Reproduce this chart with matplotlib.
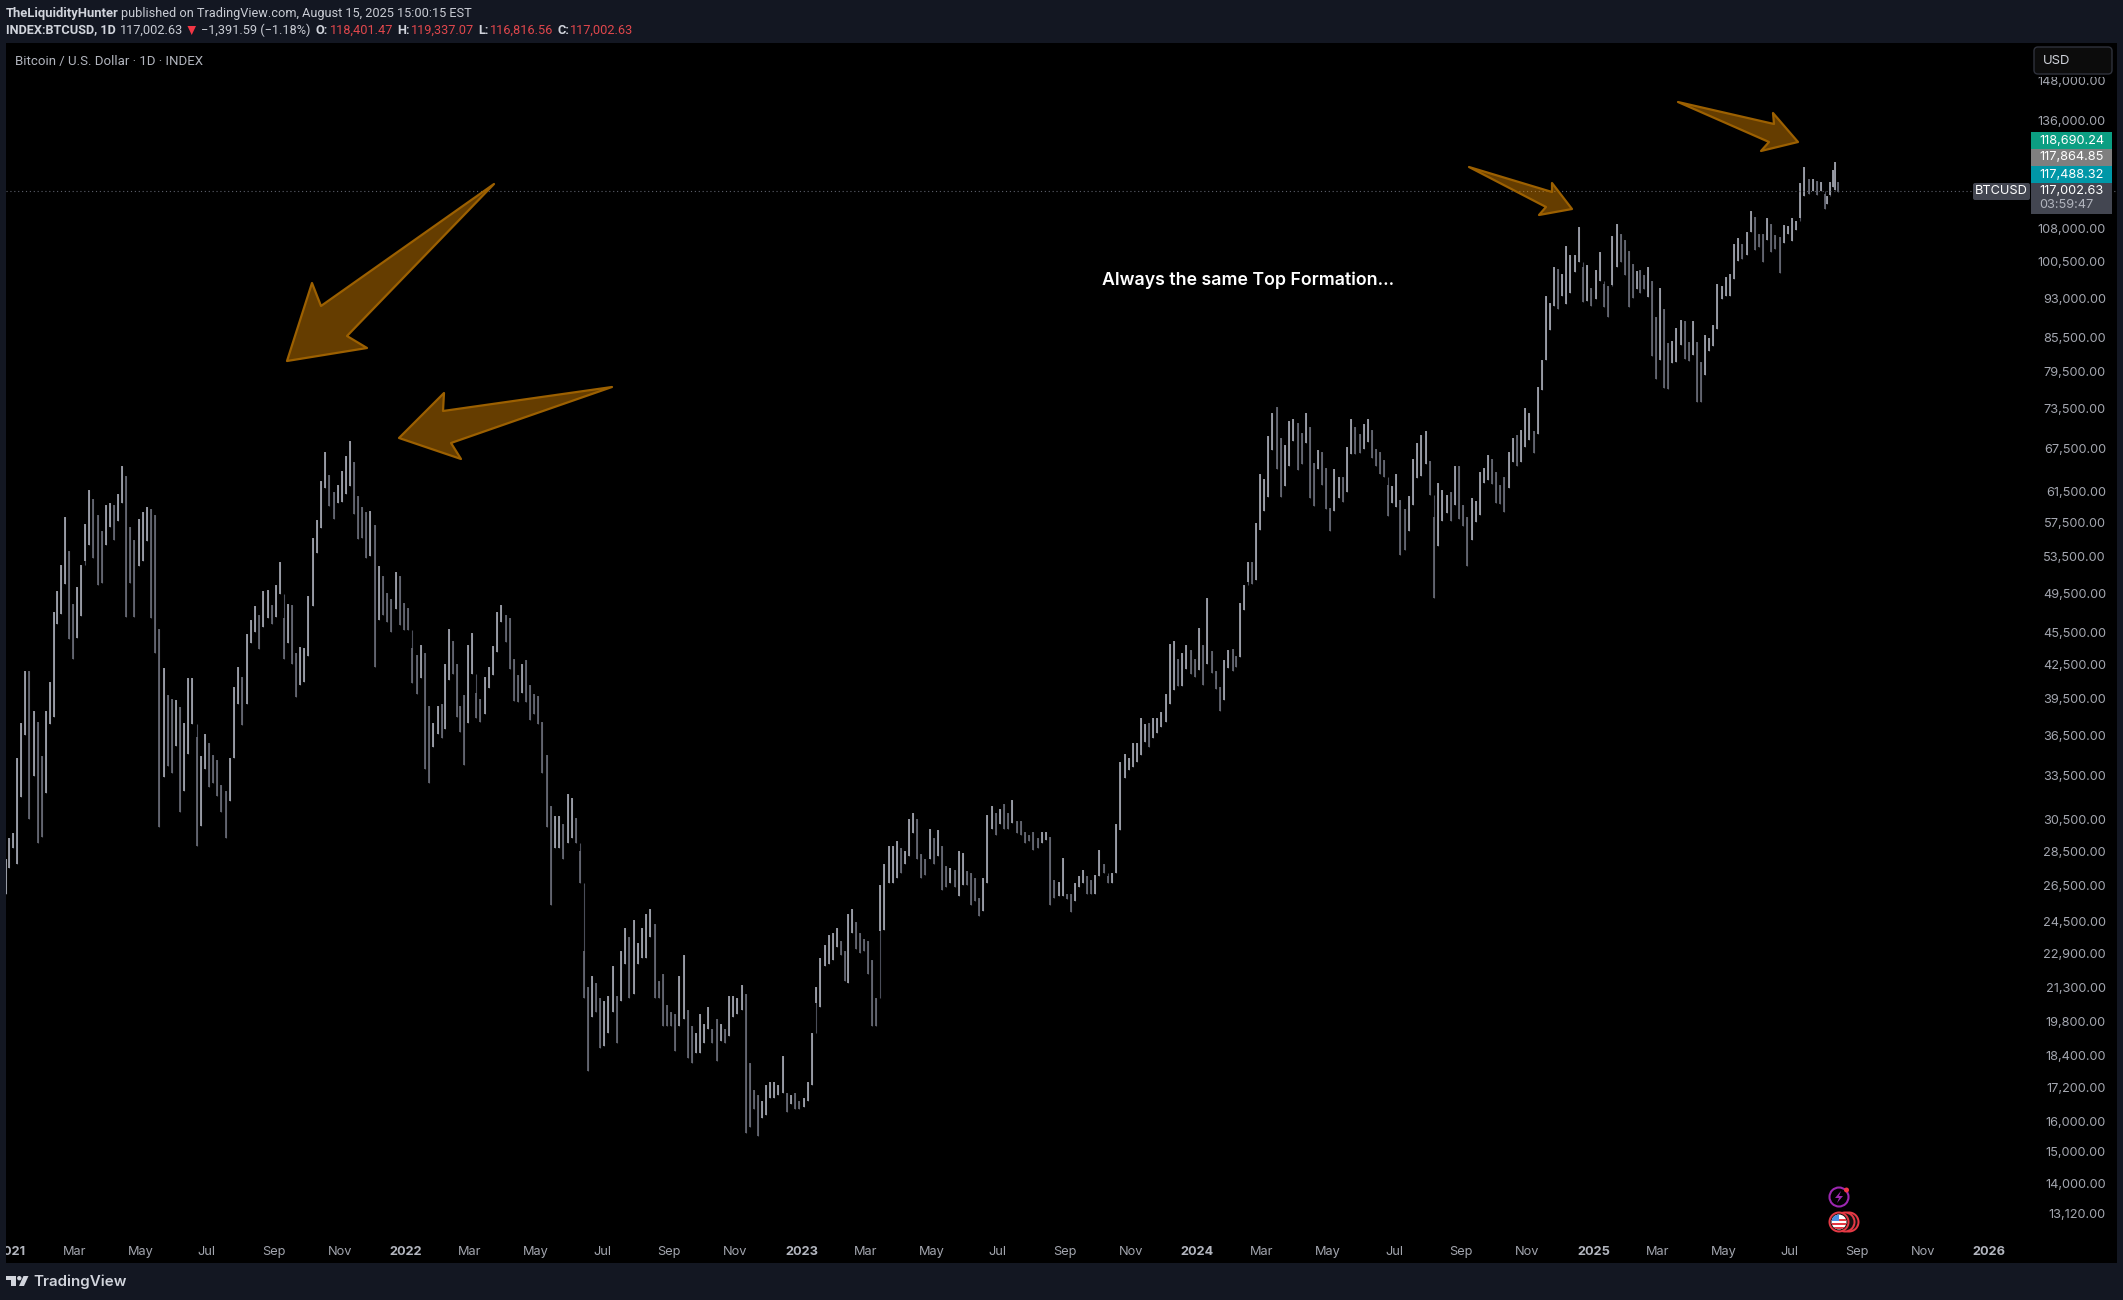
#==========================DATA========================================
import numpy as np
import pandas as pd
import matplotlib
matplotlib.use("Agg")
import matplotlib.pyplot as plt
import matplotlib.dates as mdates
from matplotlib.patches import Polygon, Rectangle, Circle, FancyBboxPatch

#High and low in thousands USD, 8 bars a month
hi_2020 = [28.0, 29.3]
lo_2020 = [26.0, 27.5]

hi_2021 = [29.6, 34.8, 37.5, 41.9, 41.9, 38.5, 37.6, 34.9,
           38.5, 40.9, 47.5, 49.7, 52.6, 58.3, 54.2, 48.4,
           50.1, 52.6, 57.4, 61.7, 60.5, 58.5, 56.5, 59.8,
           60.0, 59.8, 61.2, 64.9, 63.6, 57.0, 55.4, 58.0,
           58.9, 59.5, 59.2, 58.5, 45.8, 42.2, 39.8, 39.5,
           39.4, 38.8, 37.5, 41.3, 41.3, 36.4, 34.9, 36.6,
           35.9, 35.0, 34.6, 32.8, 32.4, 34.8, 40.5, 42.3,
           41.4, 45.3, 46.7, 48.1, 47.2, 49.7, 49.8, 48.2,
           50.4, 52.9, 46.9, 48.4, 48.2, 43.5, 44.1, 44.0,
           49.2, 55.7, 57.9, 62.9, 66.9, 63.7, 61.5, 62.4,
           64.2, 66.4, 68.5, 65.5, 60.9, 59.5, 58.9, 59.0,
           57.2, 52.5, 51.3, 49.5, 48.9, 51.8, 51.3, 48.5]
lo_2021 = [28.7, 27.7, 32.0, 36.5, 30.5, 33.5, 29.0, 29.4,
           32.3, 37.4, 38.0, 46.3, 47.3, 50.5, 44.9, 43.0,
           45.0, 47.1, 53.0, 54.9, 53.3, 50.4, 50.6, 54.9,
           57.0, 55.5, 57.7, 60.0, 47.0, 50.6, 47.0, 52.4,
           53.0, 55.3, 46.9, 43.5, 30.0, 33.4, 34.2, 33.7,
           35.7, 31.0, 32.4, 35.1, 37.4, 28.8, 30.1, 34.0,
           32.7, 33.0, 32.1, 31.0, 29.3, 31.7, 34.8, 39.0,
           37.3, 39.0, 44.5, 45.5, 43.9, 46.0, 46.9, 46.3,
           47.0, 49.4, 43.0, 44.5, 42.5, 39.6, 40.7, 40.9,
           43.3, 48.1, 53.9, 56.9, 62.0, 59.6, 58.0, 60.0,
           60.1, 61.2, 62.3, 58.6, 55.6, 55.7, 53.3, 53.6,
           42.3, 46.7, 47.2, 46.5, 45.5, 47.8, 46.2, 45.7]

hi_2022 = [47.9, 44.0, 43.4, 44.3, 43.5, 38.9, 37.5, 38.9,
           39.0, 42.5, 45.8, 44.7, 42.5, 38.9, 39.8, 44.3,
           45.4, 40.0, 39.5, 41.4, 42.3, 44.2, 47.5, 48.2,
           47.2, 46.9, 43.0, 41.5, 42.5, 42.9, 40.7, 39.9,
           39.7, 37.6, 35.0, 31.4, 30.7, 30.7, 30.2, 32.2,
           31.9, 30.6, 28.5, 23.0, 21.3, 21.8, 21.5, 20.8,
           20.7, 20.9, 22.3, 20.9, 23.0, 24.2, 23.7, 24.6,
           23.4, 24.2, 24.9, 25.2, 24.4, 21.6, 21.9, 20.5,
           20.2, 20.1, 21.8, 22.8, 20.3, 19.6, 19.3, 20.1,
           19.7, 20.4, 19.5, 19.9, 19.7, 19.5, 20.9, 20.9,
           20.8, 21.4, 21.0, 18.1, 17.1, 16.9, 16.7, 17.3,
           17.4, 17.4, 17.3, 18.4, 17.0, 16.9, 17.0, 16.7]
lo_2022 = [45.7, 40.8, 39.9, 41.3, 34.0, 33.0, 35.6, 36.6,
           36.3, 37.0, 41.1, 41.6, 38.0, 36.8, 34.3, 37.5,
           41.6, 37.9, 37.6, 38.2, 40.4, 41.5, 43.6, 46.5,
           44.6, 42.1, 39.3, 39.2, 40.0, 39.2, 37.7, 38.2,
           37.4, 33.7, 30.0, 25.4, 28.7, 28.7, 28.0, 29.0,
           29.3, 29.0, 26.6, 20.8, 17.8, 20.0, 20.2, 18.7,
           18.8, 19.3, 20.2, 18.9, 20.7, 22.4, 20.8, 21.0,
           22.4, 22.7, 22.7, 23.7, 20.8, 20.8, 19.6, 19.6,
           19.6, 18.6, 19.6, 19.9, 18.3, 18.1, 18.5, 18.5,
           18.9, 19.5, 18.9, 18.2, 19.0, 18.9, 19.2, 20.0,
           20.1, 20.3, 15.6, 15.8, 16.4, 15.5, 16.1, 16.2,
           16.8, 16.8, 16.9, 17.0, 16.3, 16.6, 16.4, 16.4]

hi_2023 = [16.8, 17.4, 19.3, 21.3, 22.7, 23.3, 23.8, 23.9,
           24.2, 23.5, 23.0, 24.9, 25.2, 24.5, 23.9, 23.6,
           23.5, 22.6, 20.8, 26.5, 27.7, 28.8, 28.8, 29.1,
           28.7, 28.5, 30.5, 30.9, 30.5, 28.3, 28.0, 29.9,
           29.3, 29.8, 28.8, 27.6, 27.5, 27.4, 28.5, 28.4,
           27.3, 27.2, 26.9, 25.8, 26.9, 30.8, 31.4, 30.9,
           31.2, 31.5, 30.9, 31.8, 30.4, 30.4, 29.7, 29.5,
           29.7, 29.3, 29.7, 29.7, 29.4, 26.8, 26.7, 28.1,
           26.0, 26.0, 26.6, 27.0, 27.4, 27.0, 26.8, 27.1,
           28.6, 27.7, 27.0, 27.2, 30.2, 34.5, 35.1, 34.8,
           35.9, 35.9, 37.9, 37.4, 37.5, 37.9, 37.9, 38.4,
           39.9, 44.4, 44.7, 43.0, 43.5, 44.3, 43.8, 43.0]
lo_2023 = [16.5, 16.7, 17.3, 20.6, 20.4, 22.3, 22.4, 22.6,
           23.2, 22.8, 21.6, 21.5, 23.9, 23.1, 22.9, 23.0,
           21.9, 19.6, 19.6, 24.0, 24.1, 26.6, 26.6, 26.9,
           27.2, 27.7, 28.2, 29.6, 28.0, 26.9, 27.1, 28.0,
           27.7, 28.2, 26.2, 26.4, 26.6, 26.4, 25.9, 26.5,
           26.5, 25.4, 25.6, 24.8, 25.1, 26.6, 29.9, 29.5,
           30.2, 29.9, 29.9, 30.3, 29.6, 29.5, 29.0, 29.1,
           28.6, 28.7, 29.0, 29.2, 25.4, 25.8, 25.9, 25.9,
           25.7, 25.0, 25.6, 26.4, 26.6, 26.0, 26.0, 26.0,
           27.0, 27.2, 26.6, 26.6, 27.2, 29.8, 33.3, 33.9,
           34.1, 34.5, 35.0, 36.0, 35.6, 36.3, 36.7, 37.2,
           37.6, 39.0, 40.2, 40.6, 40.6, 42.1, 41.6, 41.4]

hi_2024 = [45.9, 44.3, 49.0, 43.7, 41.9, 40.5, 42.9, 43.8,
           43.9, 43.3, 48.5, 50.4, 52.9, 52.9, 57.5, 63.9,
           63.2, 69.2, 72.8, 73.7, 68.9, 68.0, 71.5, 71.8,
           71.2, 69.7, 72.7, 70.6, 65.4, 67.2, 66.9, 64.7,
           59.4, 64.5, 63.4, 63.4, 67.7, 71.9, 70.6, 69.5,
           71.0, 71.8, 70.1, 67.3, 66.9, 65.8, 62.4, 62.2,
           63.8, 60.4, 59.3, 60.9, 66.0, 68.3, 69.4, 70.0,
           65.6, 58.3, 62.7, 61.7, 61.0, 61.4, 64.9, 64.9,
           59.8, 58.3, 60.6, 60.3, 64.1, 64.7, 66.5, 66.0,
           64.1, 62.4, 63.4, 67.0, 69.0, 69.4, 70.2, 73.6,
           72.7, 70.0, 76.9, 81.5, 93.5, 92.0, 99.5, 99.0,
           97.9, 103.9, 101.9, 101.9, 108.3, 99.4, 99.9, 95.0]
lo_2024 = [42.0, 40.7, 42.5, 41.7, 40.3, 38.5, 39.4, 42.2,
           41.9, 42.3, 43.2, 47.7, 50.7, 50.5, 50.9, 56.7,
           59.0, 60.8, 67.2, 64.6, 60.8, 62.3, 65.0, 68.5,
           64.4, 65.3, 68.2, 60.6, 59.6, 64.5, 62.4, 59.2,
           56.5, 59.0, 60.6, 60.2, 61.5, 66.7, 66.6, 66.8,
           67.4, 68.4, 66.1, 64.9, 63.9, 63.4, 58.4, 60.0,
           59.5, 53.7, 54.3, 56.5, 59.7, 63.3, 63.6, 65.3,
           61.0, 49.0, 54.7, 57.7, 58.8, 57.8, 59.8, 58.0,
           57.1, 52.5, 55.5, 57.6, 58.5, 62.7, 63.0, 62.5,
           60.0, 59.9, 58.9, 62.0, 65.5, 65.0, 65.5, 67.6,
           68.7, 66.8, 69.5, 76.4, 81.4, 86.8, 91.4, 90.8,
           93.5, 91.9, 94.1, 98.3, 100.4, 92.2, 92.5, 91.4]

hi_2025 = [98.8, 102.7, 95.9, 95.4, 106.3, 109.1, 106.7, 105.3,
           102.8, 100.1, 98.5, 98.8, 97.8, 99.5, 96.5, 89.3,
           95.0, 90.9, 84.5, 84.9, 87.3, 88.8, 88.5, 84.6,
           88.5, 84.7, 81.2, 85.9, 85.5, 87.9, 95.8, 95.5,
           97.4, 97.9, 104.4, 105.8, 104.4, 107.1, 112.0, 110.7,
           106.8, 106.8, 110.4, 108.9, 106.5, 106.1, 108.8, 108.5,
           110.5, 109.7, 118.9, 123.2, 120.0, 120.1, 119.6, 119.3,
           116.1, 115.7, 119.3, 122.3, 124.5, 119.3]
lo_2025 = [92.8, 96.5, 91.2, 89.3, 95.7, 99.5, 100.4, 97.8,
           91.2, 93.1, 94.8, 94.1, 94.9, 93.3, 82.1, 78.2,
           81.4, 76.7, 76.6, 81.0, 81.2, 84.1, 81.6, 81.3,
           82.4, 74.5, 74.5, 78.9, 83.0, 83.9, 87.0, 92.9,
           93.5, 93.4, 96.9, 100.6, 101.1, 102.1, 107.2, 103.1,
           103.7, 100.4, 105.3, 102.7, 103.4, 98.2, 104.6, 106.6,
           105.1, 107.5, 110.3, 115.7, 116.2, 116.9, 115.9, 116.9,
           112.6, 113.7, 115.9, 117.9, 117.2, 116.8]

last_close = 117002.63

price_ticks = [148000, 136000, 108000, 100500, 93000, 85500, 79500, 73500, 67500,
               61500, 57500, 53500, 49500, 45500, 42500, 39500, 36500, 33500, 30500,
               28500, 26500, 24500, 22900, 21300, 19800, 18400, 17200, 16000, 15000,
               14000, 13120]

time_ticks = ["2021-01-01", "2021-03-01", "2021-05-01", "2021-07-01", "2021-09-01", "2021-11-01",
              "2022-01-01", "2022-03-01", "2022-05-01", "2022-07-01", "2022-09-01", "2022-11-01",
              "2023-01-01", "2023-03-01", "2023-05-01", "2023-07-01", "2023-09-01", "2023-11-01",
              "2024-01-01", "2024-03-01", "2024-05-01", "2024-07-01", "2024-09-01", "2024-11-01",
              "2025-01-01", "2025-03-01", "2025-05-01", "2025-07-01", "2025-09-01", "2025-11-01",
              "2026-01-01"]
time_labels = ["2021", "Mar", "May", "Jul", "Sep", "Nov",
               "2022", "Mar", "May", "Jul", "Sep", "Nov",
               "2023", "Mar", "May", "Jul", "Sep", "Nov",
               "2024", "Mar", "May", "Jul", "Sep", "Nov",
               "2025", "Mar", "May", "Jul", "Sep", "Nov",
               "2026"]

#=======================BAR POSITIONS==================================

hi = np.array(hi_2020 + hi_2021 + hi_2022 + hi_2023 + hi_2024 + hi_2025) * 1000
lo = np.array(lo_2020 + lo_2021 + lo_2022 + lo_2023 + lo_2024 + lo_2025) * 1000

#Bars are spread evenly inside each month, first and last periods are partial
edges = [pd.Timestamp("2020-12-27")] + list(pd.date_range("2021-01-01", "2025-08-01", freq="MS")) + [pd.Timestamp("2025-08-16")]
counts = [2] + [8] * (len(edges) - 3) + [6]
bar_x = []
for i in range(len(counts)):
    a = mdates.date2num(edges[i])
    b = mdates.date2num(edges[i + 1])
    bar_x += list(a + (np.arange(counts[i]) + 0.5) * (b - a) / counts[i])
bar_x = np.array(bar_x)

mid = np.sqrt(hi * lo)
rising = np.r_[True, mid[1:] >= mid[:-1]]

#Bars that do not touch the previous one get joined, steep moves stay unbroken
join_lo = np.r_[lo[0], np.minimum(lo[1:], hi[:-1])]
join_hi = np.r_[hi[0], np.maximum(hi[1:], lo[:-1])]

#===========================PLOT===================================

W, H = 2123, 1300
PANEL = "#131722"
plt.rcParams["font.family"] = ["Inter", "DejaVu Sans"]

fig = plt.figure(figsize=(W / 100, H / 100), dpi=100, facecolor=PANEL)

#Chart pane, pixel box
left, right, top, bottom = 6, 2117, 43, 1263
ax = fig.add_axes([left / W, 1 - bottom / H, (right - left) / W, (bottom - top) / H], facecolor="black")
ax.set_yscale("log")
ax.set_ylim(11810, 160530)
x0 = mdates.date2num(pd.Timestamp("2022-01-01"))
ax.set_xlim(x0 - 369.2, x0 + 1579.1)

ax.vlines(bar_x, join_lo, join_hi, colors="#4a4d59", linewidth=0.8)
ax.vlines(bar_x[~rising], lo[~rising], hi[~rising], colors="#666974", linewidth=1.25)
ax.vlines(bar_x[rising], lo[rising], hi[rising], colors="#a4a7b1", linewidth=1.25)
ax.axhline(last_close, color="#5d606b", linewidth=0.8, linestyle=(0, (1, 2.5)))

for s in ax.spines.values():
    s.set_visible(False)

ax.yaxis.tick_right()
ax.minorticks_off()
ax.set_yticks(price_ticks)
ax.set_yticklabels([f"{p:,.2f}" for p in price_ticks])
ax.yaxis.set_minor_locator(matplotlib.ticker.NullLocator())
ax.tick_params(axis="y", length=0, pad=-8, labelsize=9.2, labelcolor="#a3a6af")
for t in ax.get_yticklabels():
    t.set_ha("right")

ax.set_xticks([mdates.date2num(pd.Timestamp(d)) for d in time_ticks])
ax.set_xticklabels(time_labels)
ax.tick_params(axis="x", length=0, pad=-12, labelsize=9.2, labelcolor="#a3a6af")
for t in ax.get_xticklabels():
    t.set_clip_on(True)
    t.set_clip_box(ax.bbox)
    if t.get_text().isdigit():
        t.set_fontweight("bold")
        t.set_color("#b2b5be")

#Overlay in screen pixels for drawings, badges and header
ov = fig.add_axes([0, 0, 1, 1], facecolor="none")
ov.set_xlim(0, W)
ov.set_ylim(H, 0)
ov.axis("off")

#Arrow drawings
arrows = [
    [(494, 184), (321, 306), (312, 283), (287, 361), (367, 348), (347, 336)],
    [(612, 387), (443, 411), (444, 393), (399, 438), (461, 459), (451, 443)],
    [(1469, 167), (1552, 192), (1552, 183), (1572, 209), (1539, 215), (1546, 207)],
    [(1678, 102), (1774, 124), (1773, 113), (1798, 142), (1761, 151), (1769, 142)],
]
for pts in arrows:
    ov.add_patch(Polygon(pts, closed=True, facecolor=(1, 0.6, 0, 0.4), edgecolor="#9c6000",
                         linewidth=1.6, joinstyle="round"))

ov.text(1248, 280, "Always the same Top Formation...", color="white", fontsize=12.75,
        fontweight="semibold", ha="center", va="center")

#Currency button, its black margin hides the top of the first price label
ov.add_patch(Rectangle((2031, 44), 84, 33, facecolor="black", edgecolor="none"))
ov.add_patch(FancyBboxPatch((2036, 49), 74, 23, boxstyle="round,pad=2,rounding_size=4",
                            facecolor="#0c0c0c", edgecolor="#2f323c", linewidth=1))
ov.text(2043, 60.5, "USD", color="#d1d4dc", fontsize=9.4, va="center")

#Price badges
badges = [(132, 17, "#0b9e82", "118,690.24"), (149, 17, "#7f7f7f", "117,864.85"),
          (166, 17, "#0097a7", "117,488.32"), (183, 31, "#434651", "117,002.63")]
for y, h, c, label in badges:
    ov.add_patch(Rectangle((2031, y), 81, h, facecolor=c, edgecolor="none"))
    ov.text(2039, y + 8.5, label, color="white", fontsize=9.2, va="center")
ov.text(2039, 204.5, "03:59:47", color="#b2b5be", fontsize=9.2, va="center")
ov.add_patch(FancyBboxPatch((1975, 185), 53, 13, boxstyle="round,pad=2,rounding_size=2",
                            facecolor="#434651", edgecolor="none"))
ov.text(2001.5, 191.5, "BTCUSD", color="white", fontsize=9.2, ha="center", va="center")

#Event markers near the time axis
ov.add_patch(Circle((1839, 1197), 9.5, facecolor="none", edgecolor="#9c27b0", linewidth=1.5))
ov.add_patch(Polygon([(1841, 1191), (1835, 1198), (1839, 1198), (1837, 1203), (1843, 1196), (1839, 1196)],
                     closed=True, facecolor="#9c27b0", edgecolor="none"))
ov.add_patch(Circle((1846.5, 1190), 2.5, facecolor="#f23645", edgecolor="none"))
for cx in (1849, 1845, 1839):
    ov.add_patch(Circle((cx, 1222), 10.5, facecolor="#e53945", edgecolor="none"))
    ov.add_patch(Circle((cx, 1222), 8.5, facecolor="#111111", edgecolor="none"))
flag = Circle((1839, 1222), 7.5, facecolor="white", edgecolor="none")
ov.add_patch(flag)
for y in (1219, 1223, 1227):
    stripe = Rectangle((1830, y), 18, 2, facecolor="#e53945", edgecolor="none")
    ov.add_patch(stripe)
    stripe.set_clip_path(flag)
canton = Rectangle((1830, 1213), 9, 8, facecolor="#4a90e2", edgecolor="none")
ov.add_patch(canton)
canton.set_clip_path(flag)

#Header text
HEAD = "#c9ccd4"
RED = "#e0474c"
ROBOTO = ["Roboto", "DejaVu Sans"]
ov.text(15, 61, "Bitcoin / U.S. Dollar \u00b7 1D \u00b7 INDEX", color="#b2b5be", fontsize=9.5,
        family=ROBOTO, va="center")
ov.text(6, 13, "TheLiquidityHunter", color="#d1d4dc", fontsize=9.35, fontweight="bold",
        family=ROBOTO, va="center")
ov.text(121, 13, "published on TradingView.com, August 15, 2025 15:00:15 EST", color=HEAD, fontsize=9.15,
        family=ROBOTO, va="center")
header_bits = [(6, "INDEX:BTCUSD, 1D", "#d1d4dc", "bold"), (120, "117,002.63", HEAD, "normal"),
               (201, "\u22121,391.59 (\u22121.18%)", HEAD, "normal"),
               (316, "O:", "#d1d4dc", "bold"), (329.5, "118,401.47", RED, "normal"),
               (397, "H:", "#d1d4dc", "bold"), (411, "119,337.07", RED, "normal"),
               (478, "L:", "#d1d4dc", "bold"), (490, "116,816.56", RED, "normal"),
               (558, "C:", "#d1d4dc", "bold"), (570, "117,002.63", RED, "normal")]
for x, s, c, w in header_bits:
    ov.text(x, 30, s, color=c, fontsize=9.15, fontweight=w, family=ROBOTO, va="center")
ov.add_patch(Polygon([(187.5, 26), (196, 26), (191.7, 35)], closed=True, facecolor="#f23645", edgecolor="none"))

#Footer logo
LOGO = "#d1d4dc"
ov.add_patch(Rectangle((6, 1276), 10, 4, facecolor=LOGO, edgecolor="none"))
ov.add_patch(Rectangle((11, 1276), 5, 10, facecolor=LOGO, edgecolor="none"))
ov.add_patch(Circle((19.3, 1278.2), 2.2, facecolor=LOGO, edgecolor="none"))
ov.add_patch(Polygon([(23.5, 1276), (28.5, 1276), (24, 1286), (19, 1286)], closed=True, facecolor=LOGO, edgecolor="none"))
ov.text(33, 1282, "TradingView", color=LOGO, fontsize=10.9, fontweight="semibold", va="center")

fig.savefig("out.png", dpi=100, facecolor=PANEL)
